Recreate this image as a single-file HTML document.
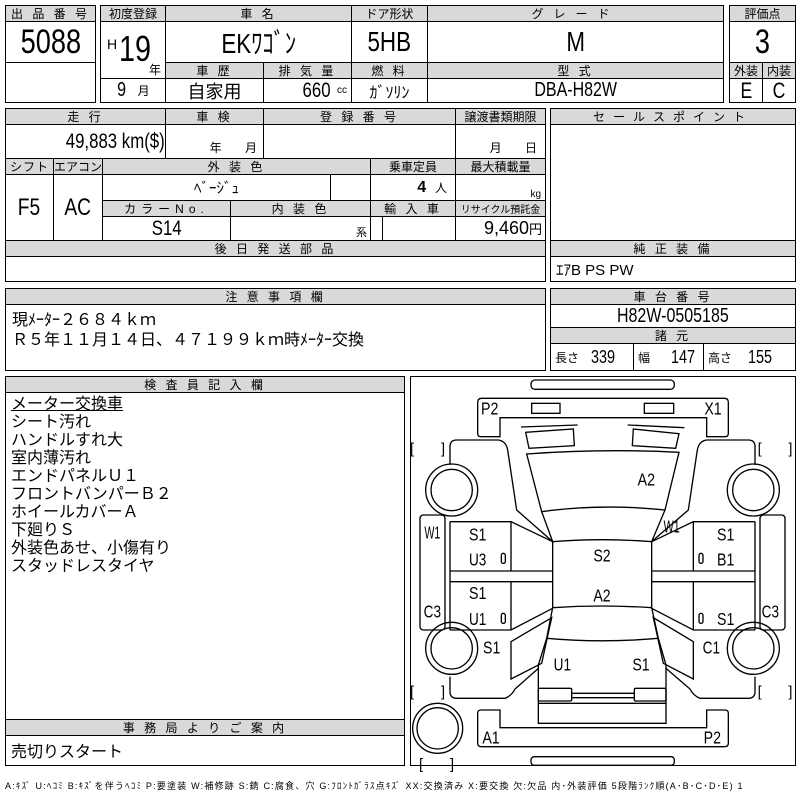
<!DOCTYPE html>
<html><head><meta charset="utf-8">
<style>
body{margin:0;width:800px;height:800px;background:#fff;position:relative;overflow:hidden;font-family:"Liberation Sans","Noto Sans CJK JP",sans-serif;color:#000}
.c{position:absolute;box-sizing:border-box;border:1px solid #000;display:flex;align-items:center;justify-content:center;white-space:nowrap;background:#fff}
.h{background:#d9d9d9;font-size:12px;letter-spacing:3px}
.b{font-size:18px}
.n{display:inline-block;transform:scaleX(0.8)}
</style></head><body>
<div class="c h" style="left:5px;top:5px;width:91px;height:17px">出 品 番 号</div>
<div class="c" style="left:5px;top:21px;width:91px;height:42px;font-size:34px"><span class="n">5088</span></div>
<div class="c" style="left:5px;top:62px;width:91px;height:41px"></div>
<div class="c h" style="left:100px;top:5px;width:66px;height:17px;letter-spacing:0">初度登録</div>
<div class="c h" style="left:165px;top:5px;width:187px;height:17px">車 名</div>
<div class="c h" style="left:351px;top:5px;width:77px;height:17px;letter-spacing:0">ドア形状</div>
<div class="c h" style="left:427px;top:5px;width:297px;height:17px;letter-spacing:10px">グレード</div>
<div class="c" style="left:100px;top:21px;width:66px;height:58px"><span style="position:absolute;left:6px;top:14px;font-size:14px">H</span><span class="n" style="position:absolute;left:14px;top:6px;font-size:36px">19</span><span style="position:absolute;right:4px;bottom:0px;font-size:12px">年</span></div>
<div class="c" style="left:165px;top:21px;width:187px;height:42px;font-size:28px"><span class="n">EKﾜｺﾞﾝ</span></div>
<div class="c" style="left:351px;top:21px;width:77px;height:42px;font-size:28px"><span class="n">5HB</span></div>
<div class="c" style="left:427px;top:21px;width:297px;height:42px;font-size:28px"><span class="n">M</span></div>
<div class="c h" style="left:165px;top:62px;width:99px;height:17px">車 歴</div>
<div class="c h" style="left:263px;top:62px;width:89px;height:17px">排 気 量</div>
<div class="c h" style="left:351px;top:62px;width:77px;height:17px">燃 料</div>
<div class="c h" style="left:427px;top:62px;width:297px;height:17px">型 式</div>
<div class="c b" style="left:100px;top:78px;width:66px;height:25px"><span class="n" style="font-size:20px">9</span>&nbsp;&nbsp;<span style="font-size:12px">月</span></div>
<div class="c b" style="left:165px;top:78px;width:99px;height:25px">自家用</div>
<div class="c b" style="left:263px;top:78px;width:89px;height:25px;justify-content:flex-end;padding-right:4px"><span class="n" style="font-size:21px">660</span><span style="font-size:10px">&nbsp;cc</span></div>
<div class="c" style="left:351px;top:78px;width:77px;height:25px;font-size:16px">ｶﾞｿﾘﾝ</div>
<div class="c b" style="left:427px;top:78px;width:297px;height:25px"><span class="n" style="font-size:20px">DBA-H82W</span></div>
<div class="c h" style="left:729px;top:5px;width:67px;height:17px;letter-spacing:0">評価点</div>
<div class="c" style="left:729px;top:21px;width:67px;height:42px;font-size:34px"><span class="n">3</span></div>
<div class="c h" style="left:729px;top:62px;width:34px;height:17px;letter-spacing:0">外装</div>
<div class="c h" style="left:762px;top:62px;width:34px;height:17px;letter-spacing:0">内装</div>
<div class="c" style="left:729px;top:78px;width:34px;height:25px;font-size:22px"><span class="n">E</span></div>
<div class="c" style="left:762px;top:78px;width:34px;height:25px;font-size:22px"><span class="n">C</span></div>
<div class="c h" style="left:5px;top:108px;width:161px;height:17px">走 行</div>
<div class="c h" style="left:165px;top:108px;width:99px;height:17px">車 検</div>
<div class="c h" style="left:263px;top:108px;width:193px;height:17px">登 録 番 号</div>
<div class="c h" style="left:455px;top:108px;width:91px;height:17px;letter-spacing:0">譲渡書類期限</div>
<div class="c b" style="left:5px;top:124px;width:161px;height:35px;justify-content:flex-end;padding-right:0px"><span class="n" style="font-size:21px;transform-origin:right center">49,883 km($)</span></div>
<div class="c" style="left:165px;top:124px;width:99px;height:35px;font-size:12px;align-items:flex-end;padding-bottom:2px;justify-content:flex-end;padding-right:6px">年&nbsp;&nbsp;&nbsp;&nbsp;&nbsp;&nbsp;&nbsp;月</div>
<div class="c" style="left:263px;top:124px;width:193px;height:35px"></div>
<div class="c" style="left:455px;top:124px;width:91px;height:35px;font-size:12px;align-items:flex-end;padding-bottom:2px;justify-content:flex-end;padding-right:8px">月&nbsp;&nbsp;&nbsp;&nbsp;&nbsp;&nbsp;&nbsp;日</div>
<div class="c h" style="left:5px;top:158px;width:49px;height:17px;letter-spacing:1px">シフト</div>
<div class="c h" style="left:53px;top:158px;width:50px;height:17px;letter-spacing:0">エアコン</div>
<div class="c h" style="left:102px;top:158px;width:269px;height:17px">外 装 色</div>
<div class="c h" style="left:370px;top:158px;width:86px;height:17px;letter-spacing:0">乗車定員</div>
<div class="c h" style="left:455px;top:158px;width:91px;height:17px;letter-spacing:0">最大積載量</div>
<div class="c" style="left:5px;top:174px;width:49px;height:67px;font-size:24px"><span class="n">F5</span></div>
<div class="c" style="left:53px;top:174px;width:50px;height:67px;font-size:24px"><span class="n">AC</span></div>
<div class="c" style="left:102px;top:174px;width:229px;height:27px;font-size:15px">ﾍﾞｰｼﾞｭ</div>
<div class="c" style="left:330px;top:174px;width:41px;height:27px"></div>
<div class="c" style="left:370px;top:174px;width:86px;height:27px;font-size:16px;justify-content:flex-end;padding-right:8px"><b>4</b>&nbsp;&nbsp;<span style="font-size:12px">人</span></div>
<div class="c" style="left:455px;top:174px;width:91px;height:27px;font-size:10px;justify-content:flex-end;padding-right:4px;align-items:flex-end">kg</div>
<div class="c h" style="left:102px;top:200px;width:129px;height:17px;letter-spacing:5px">カラーNo.</div>
<div class="c h" style="left:230px;top:200px;width:141px;height:17px">内 装 色</div>
<div class="c h" style="left:370px;top:200px;width:86px;height:17px">輸 入 車</div>
<div class="c h" style="left:455px;top:200px;width:91px;height:17px;letter-spacing:0;font-size:10px">リサイクル預託金</div>
<div class="c b" style="left:102px;top:216px;width:129px;height:25px"><span class="n" style="font-size:21px">S14</span></div>
<div class="c" style="left:230px;top:216px;width:141px;height:25px;font-size:11px;justify-content:flex-end;padding-right:3px;align-items:flex-end">系</div>
<div class="c" style="left:370px;top:216px;width:13px;height:25px"></div>
<div class="c" style="left:382px;top:216px;width:74px;height:25px"></div>
<div class="c b" style="left:455px;top:216px;width:91px;height:25px;justify-content:flex-end;padding-right:3px">9,460<span style="font-size:13px">円</span></div>
<div class="c h" style="left:5px;top:240px;width:541px;height:17px">後 日 発 送 部 品</div>
<div class="c" style="left:5px;top:256px;width:541px;height:26px"></div>
<div class="c h" style="left:550px;top:108px;width:246px;height:17px;letter-spacing:8px">セールスポイント</div>
<div class="c" style="left:550px;top:124px;width:246px;height:117px"></div>
<div class="c h" style="left:550px;top:240px;width:246px;height:17px">純 正 装 備</div>
<div class="c" style="left:550px;top:256px;width:246px;height:26px;justify-content:flex-start;padding-left:5px;font-size:15px">ｴｱB PS PW</div>
<div class="c h" style="left:5px;top:288px;width:541px;height:17px">注 意 事 項 欄</div>
<div class="c" style="left:5px;top:304px;width:541px;height:67px;display:block;font-size:16px;line-height:20px;padding:6px 0 0 6px;white-space:pre">現ﾒｰﾀｰ２６８４ｋｍ
Ｒ５年１１月１４日、４７１９９ｋｍ時ﾒｰﾀｰ交換</div>
<div class="c h" style="left:550px;top:288px;width:246px;height:17px">車 台 番 号</div>
<div class="c b" style="left:550px;top:304px;width:246px;height:24px"><span class="n" style="font-size:20px">H82W-0505185</span></div>
<div class="c h" style="left:550px;top:327px;width:246px;height:17px">諸 元</div>
<div class="c" style="left:550px;top:343px;width:84px;height:28px;font-size:16px;justify-content:flex-start;padding-left:4px"><span style="font-size:12px">長さ</span>&nbsp;&nbsp;<span class="n" style="font-size:18px">339</span></div>
<div class="c" style="left:633px;top:343px;width:71px;height:28px;font-size:16px;justify-content:flex-start;padding-left:4px"><span style="font-size:12px">幅</span>&nbsp;&nbsp;&nbsp;&nbsp;<span class="n" style="font-size:18px">147</span></div>
<div class="c" style="left:703px;top:343px;width:93px;height:28px;font-size:16px;justify-content:flex-start;padding-left:4px"><span style="font-size:12px">高さ</span>&nbsp;&nbsp;&nbsp;<span class="n" style="font-size:18px">155</span></div>
<div class="c h" style="left:5px;top:376px;width:400px;height:17px">検 査 員 記 入 欄</div>
<div class="c" style="left:5px;top:392px;width:400px;height:328px;display:block;font-size:16px;line-height:18px;padding:3px 0 0 5px;white-space:pre"><u>メーター交換車</u>
シート汚れ
ハンドルすれ大
室内薄汚れ
エンドパネルＵ１
フロントバンパーＢ２
ホイールカバーＡ
下廻りＳ
外装色あせ、小傷有り
スタッドレスタイヤ</div>
<div class="c h" style="left:5px;top:719px;width:400px;height:17px">事 務 局 よ り ご 案 内</div>
<div class="c" style="left:5px;top:735px;width:400px;height:31px;justify-content:flex-start;padding-left:5px;align-items:flex-start;font-size:16px;padding-top:2px">売切りスタート</div>
<div class="c" style="left:410px;top:376px;width:386px;height:390px"></div>
<svg style="position:absolute;left:405px;top:375px" width="395" height="400" viewBox="0 0 1185 1200">
<g fill="none" stroke="#000" stroke-width="4">
<rect x="378" y="15" width="430" height="28" rx="12"/>
<path d="M230,70 H958 Q970,70 970,82 V175 Q970,185 960,185 H905 V128 H285 V185 H228 Q218,185 218,175 V82 Q218,70 230,70 Z"/>
<rect x="380" y="85" width="85" height="30"/><rect x="718" y="85" width="88" height="30"/>
<polygon points="362,172 505,162 508,212 372,220"/><line x1="348" y1="156" x2="518" y2="150"/>
<polygon points="685,162 822,176 812,220 682,212"/><line x1="668" y1="150" x2="838" y2="158"/>
<path d="M365,237 Q590,220 822,232 L780,405 Q590,385 410,410 Z"/>
<path d="M410,410 L443,500 M780,405 L740,500"/>
<path d="M443,500 Q590,488 740,500 L740,698 Q590,688 443,698 Z"/>
<path d="M443,698 L425,790 L400,870 L400,1045 H783 L783,870 L760,790 L740,698"/>
<path d="M425,790 Q590,805 760,790"/>
<rect x="400" y="940" width="100" height="38" rx="4"/><rect x="688" y="940" width="95" height="38" rx="4"/>
<path d="M500,955 H688 M500,968 H688 M400,985 H783"/>
<path d="M228,1005 H285 V1058 H905 V1005 H960 Q970,1005 970,1015 V1105 Q970,1115 958,1115 H230 Q218,1115 218,1105 V1015 Q218,1005 228,1005 Z"/>
<rect x="378" y="1145" width="430" height="26" rx="10"/>
<path d="M135,270 V215 Q135,195 155,195 H280 Q303,198 308,225 L335,405 L443,500"/>
<path d="M135,440 H318 L443,500 M135,588 H443 M135,620 H443 M135,765 H318 L443,700 M318,440 V588 M318,620 V765 M135,440 V765"/>
<path d="M318,800 L440,728 L410,865 L318,912 Z"/>
<path d="M135,905 V950 Q135,970 155,970 H300 Q320,962 330,942 L400,880"/>
<path d="M1050,270 V215 Q1050,195 1030,195 H905 Q882,198 877,225 L850,405 L740,500"/>
<path d="M1050,440 H865 L740,500 M1050,588 H740 M1050,620 H740 M1050,765 H865 L740,700 M865,440 V588 M865,620 V765 M1050,440 V765"/>
<path d="M865,800 L745,728 L775,865 L865,912 Z"/>
<path d="M1050,905 V950 Q1050,970 1030,970 H885 Q865,962 855,942 L783,880"/>
<circle cx="140" cy="345" r="78"/><circle cx="140" cy="345" r="62"/>
<circle cx="140" cy="820" r="78"/><circle cx="140" cy="820" r="62"/>
<circle cx="1045" cy="345" r="78"/><circle cx="1045" cy="345" r="62"/>
<circle cx="1045" cy="820" r="78"/><circle cx="1045" cy="820" r="62"/>
<circle cx="98" cy="1060" r="75"/><circle cx="98" cy="1060" r="62"/>
<rect x="45" y="420" width="75" height="345" rx="10"/><rect x="1065" y="420" width="75" height="345" rx="10"/>
<rect x="289" y="535" width="12" height="30" rx="6"/><rect x="289" y="715" width="12" height="30" rx="6"/>
<rect x="882" y="535" width="12" height="30" rx="6"/><rect x="882" y="715" width="12" height="30" rx="6"/>
</g>
<g font-family="Liberation Sans" font-size="52" fill="#000">
<text x="228" y="118" textLength="52" lengthAdjust="spacingAndGlyphs">P2</text><text x="898" y="118" textLength="52" lengthAdjust="spacingAndGlyphs">X1</text><text x="698" y="332" textLength="52" lengthAdjust="spacingAndGlyphs">A2</text>
<text x="58" y="490" textLength="48" lengthAdjust="spacingAndGlyphs">W1</text><text x="192" y="497" textLength="52" lengthAdjust="spacingAndGlyphs">S1</text><text x="192" y="572" textLength="52" lengthAdjust="spacingAndGlyphs">U3</text>
<text x="565" y="560" textLength="52" lengthAdjust="spacingAndGlyphs">S2</text><text x="776" y="472" textLength="48" lengthAdjust="spacingAndGlyphs">W1</text><text x="936" y="497" textLength="52" lengthAdjust="spacingAndGlyphs">S1</text><text x="936" y="572" textLength="52" lengthAdjust="spacingAndGlyphs">B1</text>
<text x="565" y="680" textLength="52" lengthAdjust="spacingAndGlyphs">A2</text><text x="192" y="672" textLength="52" lengthAdjust="spacingAndGlyphs">S1</text><text x="192" y="750" textLength="52" lengthAdjust="spacingAndGlyphs">U1</text>
<text x="56" y="727" textLength="52" lengthAdjust="spacingAndGlyphs">C3</text><text x="936" y="750" textLength="52" lengthAdjust="spacingAndGlyphs">S1</text><text x="1070" y="727" textLength="52" lengthAdjust="spacingAndGlyphs">C3</text>
<text x="234" y="835" textLength="52" lengthAdjust="spacingAndGlyphs">S1</text><text x="893" y="835" textLength="52" lengthAdjust="spacingAndGlyphs">C1</text><text x="446" y="887" textLength="52" lengthAdjust="spacingAndGlyphs">U1</text><text x="682" y="887" textLength="52" lengthAdjust="spacingAndGlyphs">S1</text>
<text x="232" y="1105" textLength="52" lengthAdjust="spacingAndGlyphs">A1</text><text x="896" y="1105" textLength="52" lengthAdjust="spacingAndGlyphs">P2</text>
</g>
<g font-family="Liberation Sans" font-size="44" fill="#000">
<text x="15" y="236">[</text><text x="108" y="236">]</text><text x="1058" y="236">[</text><text x="1150" y="236">]</text>
<text x="15" y="965">[</text><text x="108" y="965">]</text><text x="1058" y="965">[</text><text x="1150" y="965">]</text>
<text x="42" y="1182">[</text><text x="135" y="1182">]</text>
</g>
</svg>
<div style="position:absolute;left:5px;top:779px;font-size:9px;white-space:nowrap;letter-spacing:1.2px">A:ｷｽﾞ U:ﾍｺﾐ B:ｷｽﾞを伴うﾍｺﾐ P:要塗装 W:補修跡 S:錆 C:腐食、穴 G:ﾌﾛﾝﾄｶﾞﾗｽ点ｷｽﾞ XX:交換済み X:要交換 欠:欠品 内･外装評価 5段階ﾗﾝｸ順(A･B･C･D･E) 1</div>
</body></html>
